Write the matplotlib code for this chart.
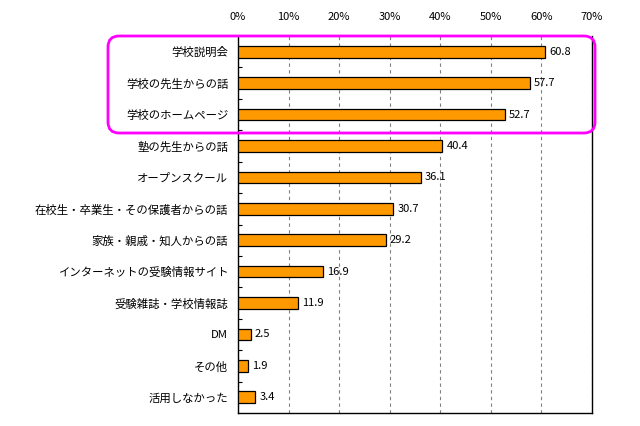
import matplotlib
matplotlib.use("Agg")
import matplotlib.pyplot as plt
from matplotlib.patches import FancyBboxPatch
from matplotlib.transforms import IdentityTransform
import numpy as np

plt.rcParams['font.family'] = ['Noto Sans CJK JP', 'DejaVu Sans']

categories = ["学校説明会", "学校の先生からの話", "学校のホームページ", "塾の先生からの話",
              "オープンスクール", "在校生・卒業生・その保護者からの話", "家族・親戚・知人からの話",
              "インターネットの受験情報サイト", "受験雑誌・学校情報誌", "DM", "その他", "活用しなかった"]
values = [60.8, 57.7, 52.7, 40.4, 36.1, 30.7, 29.2, 16.9, 11.9, 2.5, 1.9, 3.4]
xticks = [0, 10, 20, 30, 40, 50, 60, 70]

W, H = 640, 426
fig = plt.figure(figsize=(W/100, H/100), dpi=100)
ax = fig.add_axes([238/W, 1-413/H, (592-238)/W, (413-36)/H])

n = len(categories)
y = np.arange(n)
ax.barh(y, values, height=0.37, color='#FF9900', edgecolor='black', linewidth=0.9, zorder=3)
for yi, v in zip(y, values):
    ax.text(v + 0.8, yi, f"{v}", va='center', ha='left', fontsize=8, zorder=4)

ax.set_xlim(0, 70)
ax.set_ylim(n - 0.5, -0.5)
ax.set_yticks(y)
ax.set_yticklabels(categories, fontsize=8.2)
ax.tick_params(axis='y', length=0, pad=7)
ax.set_yticks(np.arange(n - 1) + 0.5, minor=True)
ax.tick_params(axis='y', which='minor', direction='in', length=3, width=0.8)

ax.xaxis.tick_top()
ax.set_xticks(xticks)
ax.set_xticklabels([f"{t}%" for t in xticks], fontsize=8)
ax.tick_params(axis='x', length=0, pad=10)
ax.xaxis.grid(True, linestyle=(0, (3, 3)), color='#808080', linewidth=0.8, zorder=0)

for s in ['left', 'bottom', 'right']:
    ax.spines[s].set_linewidth(1.0)
    ax.spines[s].set_color('black')
ax.spines['top'].set_visible(False)

# highlight box (pixel coordinates)
x0, x1, yt, yb = 108, 595, 36, 133
box = FancyBboxPatch((x0, H - yb), x1 - x0, yb - yt,
                     boxstyle="round,pad=0,rounding_size=11",
                     transform=IdentityTransform(), fill=False,
                     edgecolor='#FF00FF', linewidth=2.0, zorder=10)
fig.patches.append(box)

fig.savefig("out.png", dpi=100)
